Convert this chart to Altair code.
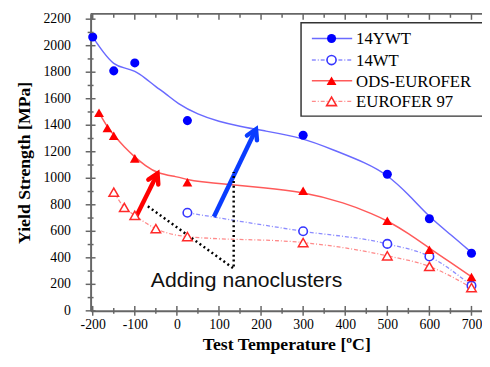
import altair as alt
import pandas as pd

# ---------------- data ----------------
series_names = ["14YWT", "14WT", "ODS-EUROFER", "EUROFER 97"]

ywt_t = [-200, -150, -100, 25, 300, 500, 600, 700]
ywt_ys = [2065, 1810, 1870, 1435, 1325, 1030, 695, 435]
ywt_fit_t = [-200, -175, -150, -125, -100, -75, -50, -25, 0, 50, 100, 150, 200, 300, 375, 450, 500, 550, 600, 650, 700]
ywt_fit_ys = [2065, 1950, 1855, 1832, 1812, 1755, 1690, 1635, 1567, 1480, 1428, 1392, 1362, 1306, 1209, 1115, 1027, 880, 705, 578, 440]

wt_t = [25, 300, 500, 600, 700]
wt_ys = [740, 600, 505, 410, 190]

ods_t = [-185, -165, -150, -100, 25, 300, 500, 600, 700]
ods_ys = [1495, 1380, 1320, 1150, 970, 905, 680, 460, 255]
ods_fit_t = [-185, -165, -150, -125, -100, -75, -46, 0, 25, 50, 133, 200, 297, 400, 468, 500, 550, 600, 650, 700]
ods_fit_ys = [1495, 1385, 1325, 1235, 1160, 1095, 1036, 1012, 990, 975, 950, 930, 900, 815, 727, 680, 585, 472, 365, 258]

e97_t = [-150, -125, -100, -50, 25, 300, 500, 600, 700]
e97_ys = [895, 780, 720, 620, 560, 515, 415, 335, 175]

x_major = [-200, -100, 0, 100, 200, 300, 400, 500, 600, 700]
x_minor = [-150, -50, 50, 150, 250, 350, 450, 550, 650]
y_major = [0, 200, 400, 600, 800, 1000, 1200, 1400, 1600, 1800, 2000, 2200]
y_minor = [100, 300, 500, 700, 900, 1100, 1300, 1500, 1700, 1900, 2100]

# annotations (data coordinates)
red_arrow = {"T": [-97], "YS": [710], "T2": [-46], "YS2": [1036]}
blue_arrow = {"T": [88], "YS": [710], "T2": [188], "YS2": [1370]}
dotted_t = [-69, 135, 135]
dotted_ys = [789, 319, 1048]
note_text = "Adding nanoclusters"
note_t = [-62]
note_ys = [178]

# ---------------- styling ----------------
W, H = 398, 302
xs = alt.Scale(domain=[-205, 725], nice=False, zero=False)
ys = alt.Scale(domain=[0, 2240], nice=False, zero=False)
SERIF = "Liberation Serif"
AX = "#666666"

c_ywt, c_ywt_line = "#0000ff", "#6a6aff"
c_wt, c_wt_line = "#3535ff", "#8c8cff"
c_ods, c_ods_line = "#ff0000", "#ff5a5a"
c_e97, c_e97_line = "#ff2a2a", "#ff8a8a"
DASH = [4, 2, 1, 2]


def df(t, v):
    return pd.DataFrame({"T": t, "YS": v})


def X(axis=False):
    if axis:
        return alt.X("T:Q", scale=xs, axis=alt.Axis(
            title="Test Temperature [ºC]", values=x_major, ticks=False, grid=False,
            domainColor=AX, domainWidth=2, labelFont=SERIF, labelFontSize=14,
            labelColor="black", labelPadding=7, labelFlush=False, labelOverlap=False,
            labelExpr="'' + datum.value",
            titleFont=SERIF, titleFontSize=18, titleFontWeight="bold",
            titleColor="black", titlePadding=4))
    return alt.X("T:Q", scale=xs)


def Y(axis=False):
    if axis:
        return alt.Y("YS:Q", scale=ys, axis=alt.Axis(
            title="Yield Strength [MPa]", values=y_major, ticks=False, grid=False,
            labels=False,
            domainColor=AX, domainWidth=2,
            titleFont=SERIF, titleFontSize=18, titleFontWeight="bold",
            titleColor="black", titleX=-67, titleY=151, titleAngle=270,
            titleAlign="center", titleBaseline="middle"))
    return alt.Y("YS:Q", scale=ys)


layers = []

# fitted curves / connecting lines
layers.append(alt.Chart(df(ywt_fit_t, ywt_fit_ys)).mark_line(
    color=c_ywt_line, strokeWidth=1.5, interpolate="basis").encode(x=X(True), y=Y(True)))
layers.append(alt.Chart(df(ods_fit_t, ods_fit_ys)).mark_line(
    color=c_ods_line, strokeWidth=1.5, interpolate="basis").encode(x=X(), y=Y()))
layers.append(alt.Chart(df(wt_t, wt_ys)).mark_line(
    color=c_wt_line, strokeWidth=1.3, strokeDash=DASH, interpolate="monotone").encode(x=X(), y=Y()))
layers.append(alt.Chart(df(e97_t, e97_ys)).mark_line(
    color=c_e97_line, strokeWidth=1.3, strokeDash=DASH, interpolate="monotone").encode(x=X(), y=Y()))

# y tick labels (drawn as text so every label shows)
layers.append(alt.Chart(pd.DataFrame({"YS": y_major, "lab": [str(v) for v in y_major]})).mark_text(
    font=SERIF, fontSize=14, color="black", align="right", baseline="middle").encode(
    y=Y(), x=alt.value(-20), text="lab:N"))

# annotation arrows and dotted connector
def arrow(d, color, ang):
    a = pd.DataFrame(d)
    shaft = alt.Chart(a).mark_rule(color=color, strokeWidth=4.5).encode(
        x=X(), y=Y(), x2="T2:Q", y2="YS2:Q")
    head = alt.Chart(a).mark_point(
        shape="M-0.55,0.95L0,0L0.55,0.95", size=420, filled=False,
        color=color, strokeWidth=4.5, opacity=1, angle=ang,
        strokeCap="round", strokeJoin="miter").encode(
        x=alt.X("T2:Q", scale=xs), y=alt.Y("YS2:Q", scale=ys))
    return [shaft, head]

layers += arrow(red_arrow, "#ff0000", 26)
layers += arrow(blue_arrow, "#0a3cff", 25)
layers.append(alt.Chart(df(dotted_t, dotted_ys).assign(o=[0, 1, 2])).mark_line(
    color="black", strokeWidth=2.5, strokeDash=[2, 3]).encode(x=X(), y=Y(), order="o:Q"))

# markers
layers.append(alt.Chart(df(ywt_t, ywt_ys)).mark_point(
    shape="circle", size=85, filled=True, color=c_ywt, opacity=1).encode(x=X(), y=Y()))
layers.append(alt.Chart(df(wt_t, wt_ys)).mark_point(
    shape="circle", size=75, filled=False, color=c_wt, strokeWidth=1.6, fill="white",
    fillOpacity=1, opacity=1).encode(x=X(), y=Y()))
layers.append(alt.Chart(df(ods_t, ods_ys)).mark_point(
    shape="triangle-up", size=100, filled=True, color=c_ods, opacity=1).encode(x=X(), y=Y()))
layers.append(alt.Chart(df(e97_t, e97_ys)).mark_point(
    shape="triangle-up", size=95, filled=False, color=c_e97, strokeWidth=1.5, fill="white",
    fillOpacity=1, opacity=1).encode(x=X(), y=Y()))

# note text
layers.append(alt.Chart(df(note_t, note_ys)).mark_text(
    text=note_text, font="Liberation Sans", fontSize=21.5, color="#111111",
    align="left", baseline="alphabetic").encode(x=X(), y=Y()))

# axis ticks (crossing on bottom/left, inward on top)
one = pd.DataFrame({"a": [0]})
for vals, s in [(x_major, 5), (x_minor, 3)]:
    layers.append(alt.Chart(df(vals, [0] * len(vals))).mark_rule(color=AX, strokeWidth=1.5).encode(
        x=X(), y=alt.value(H - s), y2=alt.value(H + s)))
    layers.append(alt.Chart(df(vals, [0] * len(vals))).mark_rule(color=AX, strokeWidth=1.5).encode(
        x=X(), y=alt.value(0), y2=alt.value(s + 1)))
for vals, s in [(y_major, 5), (y_minor, 3)]:
    layers.append(alt.Chart(df([0] * len(vals), vals)).mark_rule(color=AX, strokeWidth=1.5).encode(
        y=Y(), x=alt.value(-s), x2=alt.value(s)))
# top frame line
layers.append(alt.Chart(one).mark_rule(color=AX, strokeWidth=2).encode(
    x=alt.value(0), x2=alt.value(W), y=alt.value(0)))

# legend box
layers.append(alt.Chart(one).mark_rect(fill="white", stroke="#333333", strokeWidth=1.5).encode(
    x=alt.value(214), x2=alt.value(W + 20), y=alt.value(9), y2=alt.value(104)))
leg_rows = [25, 47, 68, 89]
leg_line_col = [c_ywt_line, c_wt_line, c_ods_line, c_e97_line]
leg_mark_col = [c_ywt, c_wt, c_ods, c_e97]
leg_shape = ["circle", "circle", "triangle-up", "triangle-up"]
leg_filled = [True, False, True, False]
leg_dash = [None, DASH, None, DASH]
for i, name in enumerate(series_names):
    yy = leg_rows[i]
    rule_kw = dict(color=leg_line_col[i], strokeWidth=1.5)
    if leg_dash[i]:
        rule_kw["strokeDash"] = leg_dash[i]
    layers.append(alt.Chart(one).mark_rule(**rule_kw).encode(
        x=alt.value(225), x2=alt.value(266), y=alt.value(yy)))
    pkw = dict(shape=leg_shape[i], size=85 if leg_shape[i] == "circle" else 100,
               filled=leg_filled[i], color=leg_mark_col[i], opacity=1)
    if not leg_filled[i]:
        pkw.update(fill="white", fillOpacity=1, strokeWidth=1.6)
    layers.append(alt.Chart(one).mark_point(**pkw).encode(x=alt.value(245), y=alt.value(yy)))
    layers.append(alt.Chart(one).mark_text(
        text=name, font=SERIF, fontSize=17, color="black", align="left", baseline="middle").encode(
        x=alt.value(270), y=alt.value(yy + 1)))

chart = alt.layer(*layers).properties(
    width=W, height=H,
    autosize=alt.AutoSizeParams(type="none"),
    padding={"left": 84, "top": 3, "right": 0, "bottom": 46},
).configure_view(strokeWidth=0)

chart.save("out.html", embed_options={"renderer": "svg", "actions": False})
